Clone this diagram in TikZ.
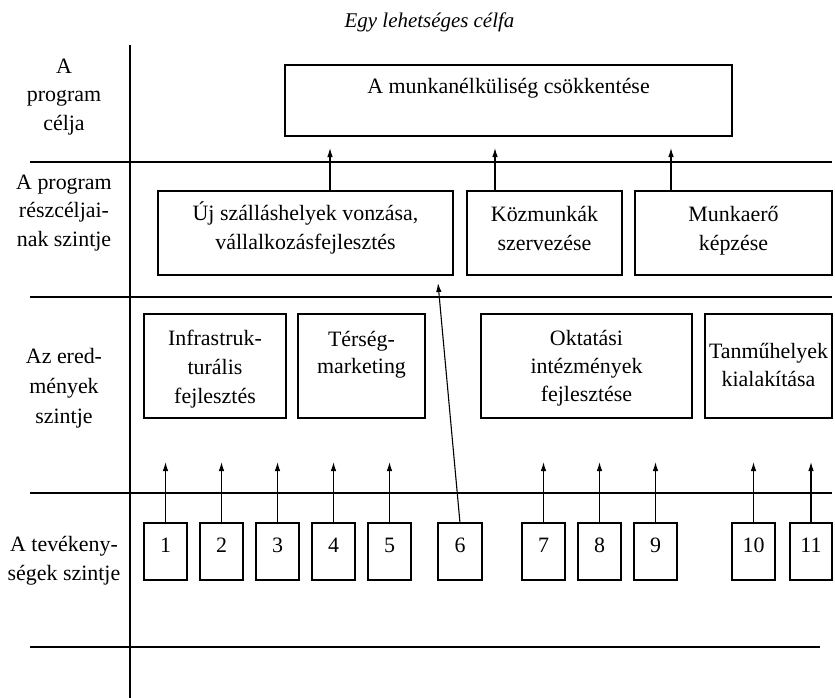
\documentclass[tikz,border=0pt]{standalone}
\usepackage{fontspec}
\setmainfont{Liberation Serif}
\usetikzlibrary{arrows.meta}
\begin{document}
\begin{tikzpicture}[x=1bp,y=-1bp,
  every node/.style={font=\fontsize{22}{29}\selectfont, inner sep=0pt, outer sep=0pt},
  frame/.style={line width=2.2bp},
  box/.style={draw, line width=2.2bp},
  txt/.style={align=center},
  numbox/.style={box, minimum width=43bp, minimum height=57bp, text height=15bp, text depth=13bp},
  arr/.style={line width=1.1bp, -{Latex[length=9bp,width=5.5bp]}}
]
\useasboundingbox (0,0) rectangle (835,698);

% title
\node[font=\fontsize{21}{26}\selectfont\itshape] (title) at (429.5,22) {Egy lehetséges célfa};

% frame
\draw[frame] (130,45) coordinate (vt) -- (130,698) coordinate (vb);
\draw[frame] (30,162) coordinate (h1a) -- (832,162) coordinate (h1b);
\draw[frame] (30,297) coordinate (h2a) -- (832,297) coordinate (h2b);
\draw[frame] (30,493) coordinate (h3a) -- (832,493) coordinate (h3b);
\draw[frame] (30,647) coordinate (h4a) -- (820,647) coordinate (h4b);

% level labels
\node[txt] (l1) at (64,97) {A\\program\\célja};
\node[txt] (l2) at (64,213) {A program\\részcéljai-\\nak szintje};
\node[txt, font=\fontsize{22}{30}\selectfont] (l3) at (64,388) {Az ered-\\mények\\szintje};
\node[txt] (l4) at (64,561) {A tevékeny-\\ségek szintje};

% goal
\node[box, minimum width=447bp, minimum height=71bp] (goal) at (508.5,100.5) {};
\node[txt] (goalt) at (508.5,88) {A munkanélküliség csökkentése};

% sub-goals
\node[box, minimum width=295bp, minimum height=84bp] (uj) at (305.5,233) {};
\node[txt] (ujt) at (305.5,228) {Új szálláshelyek vonzása,\\vállalkozásfejlesztés};
\node[box, minimum width=155bp, minimum height=84bp] (koz) at (544.5,233) {};
\node[txt] (kozt) at (544.5,228.5) {Közmunkák\\szervezése};
\node[box, minimum width=197bp, minimum height=84bp] (mun) at (733.5,233) {};
\node[txt] (munt) at (733.5,230.5) {Munkaerő\\képzése};

% results
\node[box, minimum width=142bp, minimum height=104bp] (inf) at (215,366) {};
\node[txt] (inft) at (215,369) {Infrastruk-\\turális\\fejlesztés};
\node[box, minimum width=127bp, minimum height=104bp] (ter) at (361.5,366) {};
\node[txt, font=\fontsize{22}{27}\selectfont] (tert) at (361.5,355) {Térség-\\marketing};
\node[box, minimum width=211bp, minimum height=104bp] (okt) at (586.5,366) {};
\node[txt, font=\fontsize{22}{28}\selectfont] (oktt) at (586.5,368) {Oktatási\\intézmények\\fejlesztése};
\node[box, minimum width=127bp, minimum height=104bp] (tan) at (768.5,366) {};
\node[txt] (tant) at (768.5,365) {Tanműhelyek\\kialakítása};

% activities
\node[numbox] (n1) at (165.5,551.5) {1};
\node[numbox] (n2) at (221.5,551.5) {2};
\node[numbox] (n3) at (277.5,551.5) {3};
\node[numbox] (n4) at (333.5,551.5) {4};
\node[numbox] (n5) at (389.5,551.5) {5};
\node[numbox, minimum width=44bp] (n6) at (460,551.5) {6};
\node[numbox] (n7) at (543.5,551.5) {7};
\node[numbox] (n8) at (599.5,551.5) {8};
\node[numbox] (n9) at (655.5,551.5) {9};
\node[numbox] (n10) at (753.5,551.5) {10};
\node[numbox, minimum width=42bp] (n11) at (811,551.5) {11};

% arrows to goal
\coordinate (xa) at (330,0);
\coordinate (xb) at (495,0);
\coordinate (xc) at (671,0);
\draw[arr, shorten >=12bp] (uj.north -| xa) -- (goal.south -| xa);
\draw[arr, shorten >=12bp] (koz.north -| xb) -- (goal.south -| xb);
\draw[arr, shorten >=12bp] (mun.north -| xc) -- (goal.south -| xc);

% arrows from activities
\coordinate (tip) at (0,462);
\foreach \n in {n1,n2,n3,n4,n5,n7,n8,n9,n10,n11}{
  \draw[arr] (\n.north) -- (\n.north |- tip);
}
\coordinate (t6) at (438,283);
\draw[arr] (n6.north) -- (t6);
\end{tikzpicture}
\end{document}
